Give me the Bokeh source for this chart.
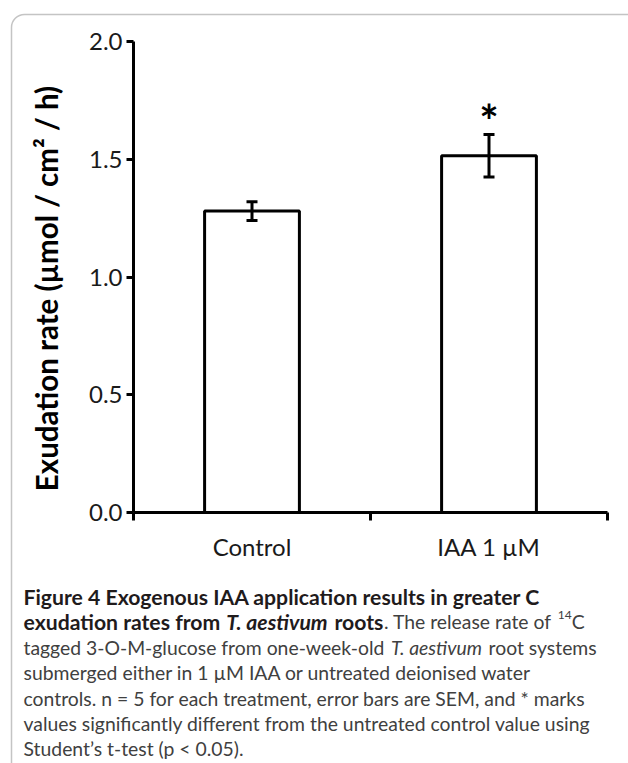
import os
import glob
import math
import struct
import subprocess

from bokeh.plotting import figure
from bokeh.models import (Range1d, FixedTicker, NumeralTickFormatter, Whisker,
                          TeeHead, ColumnDataSource, Label, BoxAnnotation)
from bokeh.core.properties import value
from bokeh.embed import file_html
from bokeh.resources import INLINE

# ---------------- data ----------------
categories = ["Control", "IAA 1 µM"]
means = [1.28, 1.515]
sems = [0.04, 0.09]
sig_marks = ["", "*"]
y_ticks = [0.0, 0.5, 1.0, 1.5, 2.0]
y_label = "Exudation rate (µmol / cm² / h)"

caption_lines = [
    [("Figure 4 Exogenous IAA application results in greater C", "b")],
    [("exudation rates from ", "b"), ("T. aestivum", "bi"), (" roots", "b"),
     (". The release rate of ", "n"), ("14", "sup"), ("C", "n")],
    [("tagged 3-O-M-glucose from one-week-old ", "n"), ("T. aestivum", "i"),
     (" root systems", "n")],
    [("submerged either in 1 µM IAA or untreated deionised water", "n")],
    [("controls. n = 5 for each treatment, error bars are SEM, and * marks", "n")],
    [("values significantly different from the untreated control value using", "n")],
    [("Student’s t-test (p < 0.05).", "n")],
]

# ---------------- font metrics (for laying out caption runs) ----------------
def _find_font(style):
    try:
        r = subprocess.run(["fc-match", "-f", "%{file}", "Lato:style=" + style],
                           capture_output=True, text=True, timeout=5)
        path = r.stdout.strip()
        if path and os.path.exists(path) and "lato" in os.path.basename(path).lower():
            return path
    except Exception:
        pass
    key = style.replace(" ", "")
    for pat in ["/usr/share/fonts/**/Lato-%s.ttf" % key, "/usr/share/fonts/**/Lato*%s*.ttf" % key]:
        hits = glob.glob(pat, recursive=True)
        if hits:
            return hits[0]
    return None


def _load_width_fn(path):
    with open(path, "rb") as f:
        data = f.read()
    off0 = struct.unpack(">I", data[12:16])[0] if data[:4] == b"ttcf" else 0
    num = struct.unpack(">H", data[off0 + 4:off0 + 6])[0]
    tables = {}
    for i in range(num):
        rec = off0 + 12 + 16 * i
        tag = data[rec:rec + 4].decode("latin1")
        o, _l = struct.unpack(">II", data[rec + 8:rec + 16])
        tables[tag] = o
    head = tables["head"]
    upem = struct.unpack(">H", data[head + 18:head + 20])[0]
    hhea = tables["hhea"]
    nh = struct.unpack(">H", data[hhea + 34:hhea + 36])[0]
    hm = tables["hmtx"]
    adv = [struct.unpack(">H", data[hm + 4 * i:hm + 4 * i + 2])[0] for i in range(nh)]
    cm = tables["cmap"]
    n = struct.unpack(">H", data[cm + 2:cm + 4])[0]
    sub4 = sub12 = None
    for i in range(n):
        pid, eid, so = struct.unpack(">HHI", data[cm + 4 + 8 * i:cm + 12 + 8 * i])
        s = cm + so
        fmt = struct.unpack(">H", data[s:s + 2])[0]
        if fmt == 4 and sub4 is None and pid in (0, 3):
            sub4 = s
        if fmt == 12 and sub12 is None and pid in (0, 3):
            sub12 = s

    def gid(c):
        if sub12 is not None:
            ng = struct.unpack(">I", data[sub12 + 12:sub12 + 16])[0]
            for k in range(ng):
                a, b, g = struct.unpack(">III", data[sub12 + 16 + 12 * k:sub12 + 28 + 12 * k])
                if a <= c <= b:
                    return g + c - a
            return 0
        s = sub4
        segx2 = struct.unpack(">H", data[s + 6:s + 8])[0]
        seg = segx2 // 2
        ends = s + 14
        starts = ends + segx2 + 2
        deltas = starts + segx2
        roffs = deltas + segx2
        for k in range(seg):
            e = struct.unpack(">H", data[ends + 2 * k:ends + 2 * k + 2])[0]
            if c <= e:
                st = struct.unpack(">H", data[starts + 2 * k:starts + 2 * k + 2])[0]
                if c < st:
                    return 0
                d = struct.unpack(">h", data[deltas + 2 * k:deltas + 2 * k + 2])[0]
                ro = struct.unpack(">H", data[roffs + 2 * k:roffs + 2 * k + 2])[0]
                if ro == 0:
                    return (c + d) & 0xFFFF
                addr = roffs + 2 * k + ro + 2 * (c - st)
                g = struct.unpack(">H", data[addr:addr + 2])[0]
                return (g + d) & 0xFFFF if g else 0
        return 0

    def width(text):
        tot = 0
        for ch in text:
            g = gid(ord(ch))
            tot += adv[min(g, len(adv) - 1)]
        return tot / upem

    return width


_STYLE_FILES = {"normal": "Regular", "bold": "Bold", "italic": "Italic", "bold italic": "Bold Italic"}
_width_fns = {}
for _k, _s in _STYLE_FILES.items():
    try:
        _p = _find_font(_s)
        _width_fns[_k] = _load_width_fn(_p) if _p else None
    except Exception:
        _width_fns[_k] = None


def text_em(text, style):
    fn = _width_fns.get(style)
    if fn is not None:
        try:
            return fn(text)
        except Exception:
            pass
    return len(text) * (0.53 if "bold" in style else 0.5)


RUN_STYLE = {"b": "bold", "bi": "bold italic", "n": "normal", "i": "italic", "sup": "normal"}

# ---------------- figure ----------------
W, H = 628, 763
# pixel layout of the plotting area inside the (full-canvas) frame
AX_L, AX_R, AX_B, AX_T = 133, 607, 512, 41
n_cat = len(categories)
y_min, y_max = y_ticks[0], y_ticks[-1]
sx = (AX_R - AX_L) / n_cat
sy = (AX_B - AX_T) / (y_max - y_min)

p = figure(width=W, height=H,
           x_range=Range1d(-AX_L / sx, n_cat + (W - AX_R) / sx),
           y_range=Range1d(y_min - (H - AX_B) / sy, y_max + AX_T / sy),
           output_backend="svg", toolbar_location=None,
           min_border=0, min_border_left=0, min_border_right=0,
           min_border_top=0, min_border_bottom=0)
p.outline_line_color = None
p.xgrid.visible = False
p.ygrid.visible = False
p.background_fill_color = "white"
p.border_fill_color = "white"

xs = [i + 0.5 for i in range(n_cat)]
src = ColumnDataSource(dict(
    x=xs, top=means,
    upper=[m + s for m, s in zip(means, sems)],
    lower=[m - s for m, s in zip(means, sems)],
    sig=sig_marks,
))

p.vbar(x="x", top="top", bottom=0, width=0.4, source=src,
       fill_color="white", line_color="black", line_width=3)

wh = Whisker(source=src, base="x", upper="upper", lower="lower",
             line_color="black", line_width=3, level="overlay",
             upper_head=TeeHead(size=11, line_color="black", line_width=3),
             lower_head=TeeHead(size=11, line_color="black", line_width=3))
p.add_layout(wh)

p.text(x="x", y="upper", text="sig", source=src, text_align="center",
       text_baseline="alphabetic", y_offset=-14, text_font=value("Lato"),
       text_font_style="bold", text_font_size="46px", text_color="black")

# y axis (drawn at x = 0 inside the full-canvas frame)
ya = p.yaxis[0]
ya.fixed_location = 0
ya.bounds = (y_min, y_max)
ya.ticker = FixedTicker(ticks=y_ticks, minor_ticks=[])
ya.formatter = NumeralTickFormatter(format="0.0")
ya.axis_line_width = 3
ya.axis_line_color = "black"
ya.major_tick_line_width = 3
ya.major_tick_in = 0
ya.major_tick_out = 7
ya.minor_tick_line_color = None
ya.major_label_text_font = "Lato"
ya.major_label_text_font_size = "24px"
ya.major_label_text_color = "#1a1a1a"
ya.major_label_standoff = 4

# y axis title, placed as in the reference
p.add_layout(Label(x=46, y=288, x_units="canvas", y_units="canvas",
                   text=y_label, angle=math.pi / 2, angle_units="rad",
                   text_font="Lato", text_font_style="bold",
                   text_font_size="29.5px", text_color="black",
                   text_align="center", text_baseline="middle"))

# x axis: labels at category centres, tick marks at category boundaries
xa = p.xaxis[0]
xa.fixed_location = 0
xa.bounds = (0, n_cat)
xa.ticker = FixedTicker(ticks=xs, minor_ticks=list(range(n_cat + 1)))
xa.major_label_overrides = {x: c for x, c in zip(xs, categories)}
xa.axis_line_width = 3
xa.axis_line_color = "black"
xa.major_tick_in = 0
xa.major_tick_out = 0
xa.minor_tick_in = 0
xa.minor_tick_out = 8
xa.minor_tick_line_width = 3
xa.minor_tick_line_color = "black"
xa.major_label_text_font = "Lato"
xa.major_label_text_font_size = "24px"
xa.major_label_text_color = "#1a1a1a"
xa.major_label_standoff = 11

# rounded frame around figure + caption (only top & left edges visible)
box = BoxAnnotation(left=11, right=W + 60, top=14, bottom=H + 60,
                    left_units="canvas", right_units="canvas",
                    top_units="canvas", bottom_units="canvas",
                    fill_alpha=0, line_color="#3a3a3a", line_width=1.5,
                    border_radius=13, level="underlay")
p.add_layout(box)

# caption
def _line_em(runs):
    return sum(text_em(t, RUN_STYLE[s]) for t, s in runs)

reg_em = [_line_em(caption_lines[i]) for i in (2, 4, 5)]
reg_target = [576, 574, 578]
reg_size = sum(t * 0.99 / e for t, e in zip(reg_target, reg_em)) / len(reg_em)
reg_size = max(15.0, min(22.0, reg_size))
bold_size = 519 * 1.0 / _line_em(caption_lines[0])
bold_size = max(15.0, min(22.0, bold_size))
sup_size = reg_size * 0.62

x0 = 23.0
base0 = 596.0
spacing = 25.4
for li, runs in enumerate(caption_lines):
    x = x0
    y_base = base0 + li * spacing
    for text, st in runs:
        style = RUN_STYLE[st]
        size = sup_size if st == "sup" else (bold_size if st in ("b", "bi") else reg_size)
        lead = text[:len(text) - len(text.lstrip(" "))]
        body = text.lstrip(" ")
        x += text_em(lead, style) * size
        yb = y_base - (reg_size * 0.38 if st == "sup" else 0)
        color = "#1f1b1c" if st in ("b", "bi") else "#404040"
        p.add_layout(Label(x=x, y=yb, x_units="canvas", y_units="canvas",
                           text=body, text_font="Lato", text_font_style=style,
                           text_font_size="%.2fpx" % size, text_color=color,
                           text_baseline="alphabetic", text_align="left"))
        x += text_em(body, style) * size

open("out.html", "w").write(file_html(p, INLINE))
